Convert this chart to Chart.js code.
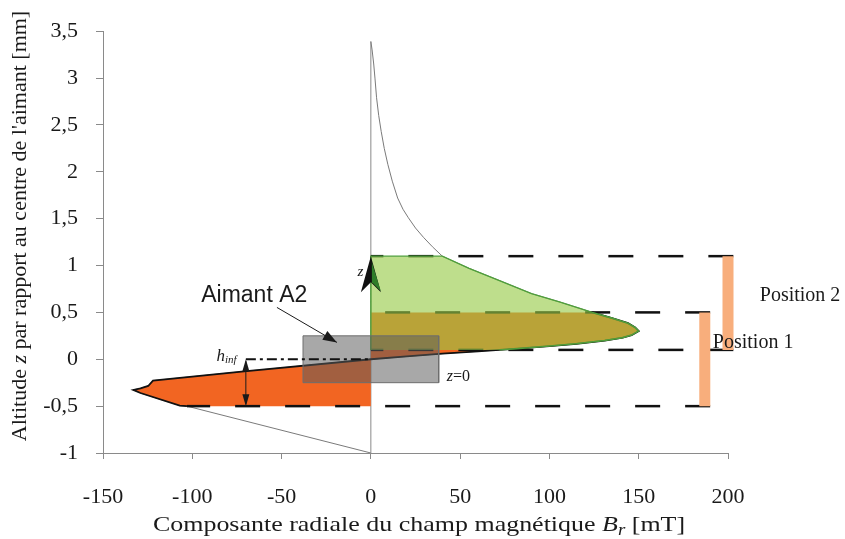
<!DOCTYPE html>
<html>
<head>
<meta charset="utf-8">
<script src="https://cdn.jsdelivr.net/npm/chart.js@4.4.1/dist/chart.umd.min.js"></script>
<style>
  html, body { margin: 0; padding: 0; background: #fff; }
</style>
</head>
<body>
<canvas id="chart" width="845" height="539"></canvas>
<script>
// Br(z) profile (z in mm, Br in mT)
const zValues = [-1, -0.5, -0.494, -0.36, -0.327, -0.31, -0.285, -0.228, -0.13, 0,
  0.03, 0.06, 0.085, 0.11, 0.14, 0.165, 0.2, 0.23, 0.257, 0.3, 0.34, 0.385, 0.44, 0.5,
  0.61, 0.7, 0.84, 0.97, 1.1, 1.2, 1.3, 1.4, 1.51, 1.6, 1.72, 1.9, 2.08, 2.25, 2.43,
  2.6, 2.79, 3.0, 3.15, 3.3, 3.39];
const brValues = [0, -103, -107, -129, -133, -129, -124.7, -122, -71, 0,
  20, 40, 60, 80, 100, 115, 131, 141, 146, 150, 148, 144, 135, 124,
  106, 90, 72, 55, 40, 34.5, 29.5, 25, 21, 18, 15, 12, 9.5, 7.5, 5.8,
  4.4, 3.2, 2.3, 1.6, 0.7, 0];

const xTicks = [-150, -100, -50, 0, 50, 100, 150, 200];
const yTicks = [-1, -0.5, 0, 0.5, 1, 1.5, 2, 2.5, 3, 3.5];

// magnet positions (z ranges) and the dashed level lines
const position1 = [-0.5, 0.5];
const position2 = [0.1, 1.1];
const levelZ = [1.1, 0.5, 0.1, -0.5];
const levelFrom = [203, 190, 203, 190];
const levelTo = [0, 0, 0, -103];

// magnet A2 outline and h_inf
const magnetBr = [-38, 38];
const magnetZ = [-0.25, 0.25];
const hinfBr = -70;

function brAt(zq) {
  for (let i = 0; i < zValues.length - 1; i++) {
    if (zValues[i] <= zq && zValues[i + 1] >= zq) {
      const t = (zq - zValues[i]) / (zValues[i + 1] - zValues[i]);
      return brValues[i] + t * (brValues[i + 1] - brValues[i]);
    }
  }
  return 0;
}

function profileSlice(zLow, zHigh) {
  const pts = [{ x: brAt(zLow), y: zLow }];
  for (let i = 0; i < zValues.length; i++) {
    if (zValues[i] > zLow && zValues[i] < zHigh) pts.push({ x: brValues[i], y: zValues[i] });
  }
  pts.push({ x: brAt(zHigh), y: zHigh });
  return pts;
}

const curvePts = zValues.map((z, i) => ({ x: brValues[i], y: z }));
const orangePts = profileSlice(position1[0], position1[1]);
const greenPts = profileSlice(position2[0], position2[1]);

const serif = "'Liberation Serif', 'Times New Roman', serif";
const sans = "'Liberation Sans', Arial, sans-serif";

const base = { pointRadius: 0, tension: 0, borderWidth: 1, fill: false };

const datasets = [
  // vertical line at Br = 0
  { ...base, data: [{ x: 0, y: -1 }, { x: 0, y: zValues[zValues.length - 1] }], borderColor: '#8a8a8a', order: 20 },
  { ...base, data: curvePts, borderColor: '#7a7a7a', order: 19 },
  { ...base, data: orangePts.concat([{ x: 0, y: position1[1] }, { x: 0, y: position1[0] }]),
    fill: 'shape', backgroundColor: '#F26522', borderWidth: 0, borderColor: 'rgba(0,0,0,0)', order: 18 },
  { ...base, data: orangePts, borderColor: '#111', borderWidth: 1.8, order: 17 },
];

levelZ.forEach((z, i) => {
  datasets.push({ ...base, data: [{ x: levelFrom[i], y: z }, { x: levelTo[i], y: z }],
    borderColor: '#111', borderWidth: 2.5, borderDash: [25, 25], clip: false, order: 16 });
});

datasets.push(
  { ...base, data: greenPts.concat([{ x: 0, y: position2[1] }, { x: 0, y: position2[0] }]),
    fill: 'shape', backgroundColor: 'rgba(150,202,70,0.62)', borderColor: '#4f9f3c', borderWidth: 1.4, order: 10 },
  { ...base, data: [{ x: magnetBr[0], y: magnetZ[1] }, { x: magnetBr[1], y: magnetZ[1] }, { x: magnetBr[1], y: magnetZ[0] },
      { x: magnetBr[0], y: magnetZ[0] }, { x: magnetBr[0], y: magnetZ[1] }],
    fill: 'shape', backgroundColor: 'rgba(90,90,90,0.53)', borderColor: '#6e6e6e', borderWidth: 1, order: 9 },
  { ...base, data: [{ x: hinfBr, y: 0 }, { x: 0, y: 0 }], borderColor: '#111', borderWidth: 2,
    borderDash: [10, 4, 3, 4], order: 8 },
  { ...base, data: [{ x: 187, y: position1[0] }, { x: 187, y: position1[1] }], borderColor: '#F8AE7C',
    borderWidth: 11, borderCapStyle: 'butt', clip: false, order: 7 },
  { ...base, data: [{ x: 200, y: position2[0] }, { x: 200, y: position2[1] }], borderColor: '#F8AE7C',
    borderWidth: 11, borderCapStyle: 'butt', clip: false, order: 7 }
);

function arrowHead(ctx, x1, y1, x2, y2, len, half) {
  const a = Math.atan2(y2 - y1, x2 - x1);
  ctx.beginPath();
  ctx.moveTo(x2, y2);
  ctx.lineTo(x2 - len * Math.cos(a) + half * Math.sin(a), y2 - len * Math.sin(a) - half * Math.cos(a));
  ctx.lineTo(x2 - len * Math.cos(a) - half * Math.sin(a), y2 - len * Math.sin(a) + half * Math.cos(a));
  ctx.closePath();
  ctx.fill();
}

function drawRuns(ctx, runs, x, y) {
  // runs: [text, font, dy]
  let cx = x;
  runs.forEach(r => {
    ctx.font = r[1];
    ctx.fillText(r[0], cx, y + (r[2] || 0));
    cx += ctx.measureText(r[0]).width;
  });
  return cx - x;
}

function runsWidth(ctx, runs) {
  let w = 0;
  runs.forEach(r => { ctx.font = r[1]; w += ctx.measureText(r[0]).width; });
  return w;
}

const annotations = {
  id: 'annotations',
  afterDatasetsDraw(chart) {
    const ctx = chart.ctx;
    const xs = chart.scales.x, ys = chart.scales.y;
    const px = v => xs.getPixelForValue(v);
    const py = v => ys.getPixelForValue(v);
    ctx.save();
    ctx.fillStyle = '#1a1a1a';
    ctx.strokeStyle = '#1a1a1a';
    ctx.textBaseline = 'middle';
    ctx.textAlign = 'left';

    // z arrow on the Br = 0 axis
    const tx = px(0), ty = py(position2[1]);
    ctx.fillStyle = '#111';
    ctx.beginPath();
    ctx.moveTo(tx, ty);
    ctx.lineTo(tx - 10, ty + 36);
    ctx.lineTo(tx, ty + 26);
    ctx.lineTo(tx + 10, ty + 36);
    ctx.closePath();
    ctx.fill();
    ctx.fillStyle = '#2f7d2a';
    ctx.beginPath();
    ctx.moveTo(tx + 1, ty + 6);
    ctx.lineTo(tx + 1, ty + 26);
    ctx.lineTo(tx + 10, ty + 35);
    ctx.closePath();
    ctx.fill();
    ctx.fillStyle = '#1a1a1a';
    ctx.font = 'italic 15px ' + serif;
    ctx.fillText('z', px(-7.5), py(0.93));

    // Aimant A2 label and arrow
    ctx.font = '23px ' + sans;
    ctx.fillText('Aimant A2', px(-95), py(0.68));
    ctx.lineWidth = 1;
    const ax1 = px(-52.6), ay1 = py(0.553), ax2 = px(-19), ay2 = py(0.18);
    ctx.beginPath();
    ctx.moveTo(ax1, ay1);
    ctx.lineTo(ax2, ay2);
    ctx.stroke();
    arrowHead(ctx, ax1, ay1, ax2, ay2, 14, 5);

    // h_inf double arrow
    const hx = px(hinfBr), h0 = py(0), h1 = py(position1[0]);
    ctx.beginPath();
    ctx.moveTo(hx, h0 + 2);
    ctx.lineTo(hx, h1 - 2);
    ctx.stroke();
    arrowHead(ctx, hx, h1, hx, h0, 12, 3.5);
    arrowHead(ctx, hx, h0, hx, h1, 12, 3.5);
    drawRuns(ctx, [['h', 'italic 17px ' + serif, 0], ['inf', 'italic 11px ' + serif, 4]], px(-86.5), py(0.03));

    // z=0
    drawRuns(ctx, [['z', 'italic 16px ' + serif], ['=0', '16px ' + serif]], px(42.5), py(-0.19));

    // positions
    ctx.font = '20px ' + serif;
    ctx.fillText('Position 1', px(191.5), py(0.18));
    ctx.fillText('Position 2', px(217.8), py(0.68));
    ctx.restore();
  },
  afterDraw(chart) {
    const ctx = chart.ctx;
    ctx.save();
    ctx.fillStyle = '#1a1a1a';
    ctx.textBaseline = 'alphabetic';
    const f = '22px ' + serif, fi = 'italic 22px ' + serif;
    // x title, slightly widened like the original scan
    const xRuns = [['Composante radiale du champ magnétique ', f, 0], ['B', fi, 0],
      ['r', 'italic 16px ' + serif, 4], [' [mT]', f, 0]];
    const xw = runsWidth(ctx, xRuns);
    ctx.save();
    ctx.translate(419, 531);
    ctx.scale(1.18, 1);
    drawRuns(ctx, xRuns, -xw / 2, 0);
    ctx.restore();

    const yRuns = [['Altitude ', f, 0], ['z', fi, 0], [" par rapport au centre de l'aimant [mm]", f, 0]];
    const yw = runsWidth(ctx, yRuns);
    ctx.translate(26, 226);
    ctx.rotate(-Math.PI / 2);
    drawRuns(ctx, yRuns, -yw / 2, 0);
    ctx.restore();
  }
};

new Chart(document.getElementById('chart'), {
  type: 'line',
  data: { datasets },
  options: {
    responsive: false,
    animation: false,
    layout: { padding: { top: 30, right: 117, left: 0, bottom: 0 } },
    plugins: { legend: { display: false }, tooltip: { enabled: false } },
    scales: {
      x: {
        type: 'linear',
        min: xTicks[0],
        max: xTicks[xTicks.length - 1],
        afterFit: s => { s.height = 86; },
        afterBuildTicks: s => { s.ticks = xTicks.map(v => ({ value: v })); },
        border: { color: '#8a8a8a', width: 1 },
        grid: { drawOnChartArea: false, tickLength: 6, color: '#8a8a8a' },
        ticks: { color: '#1a1a1a', font: { family: serif, size: 22 }, padding: 25, maxRotation: 0 }
      },
      y: {
        type: 'linear',
        min: yTicks[0],
        max: yTicks[yTicks.length - 1],
        afterFit: s => { s.width = 103; },
        afterBuildTicks: s => { s.ticks = yTicks.map(v => ({ value: v })); },
        border: { color: '#8a8a8a', width: 1 },
        grid: { drawOnChartArea: false, tickLength: 7, color: '#8a8a8a' },
        ticks: { color: '#1a1a1a', font: { family: serif, size: 22 }, padding: 18,
          callback: v => String(v).replace('.', ',') }
      }
    }
  },
  plugins: [annotations]
});
</script>
</body>
</html>
